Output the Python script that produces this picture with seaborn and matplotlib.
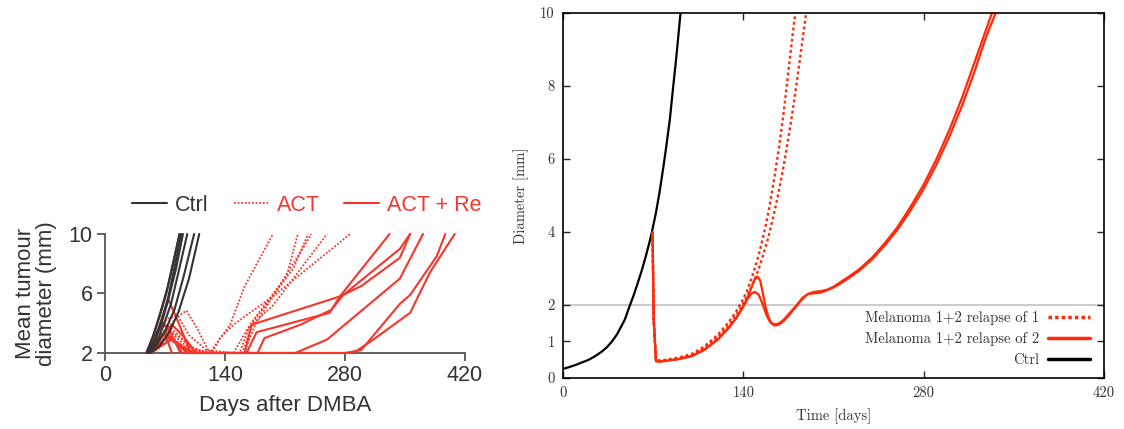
import numpy as np
import pandas as pd
import seaborn as sns
import matplotlib.pyplot as plt
from matplotlib.lines import Line2D

sns.set_theme(style='ticks')
plt.rcParams['font.family'] = ['Liberation Sans', 'DejaVu Sans']

# ---------------- left panel: measured tumours (days after DMBA, mm) ----------------
ctrl_days = [
    [48, 56, 64, 72, 80, 87],
    [50, 58, 66, 74, 82, 89],
    [50, 58, 66, 74, 83, 91],
    [52, 60, 68, 77, 86, 96],
    [51, 61, 71, 81, 92, 104],
    [53, 64, 75, 86, 98, 110],
    [49, 57, 65, 73, 81, 87],
]
ctrl_diam = [
    [2, 3.1, 4.5, 6.1, 8.2, 10],
    [2, 2.9, 4.2, 5.8, 8.0, 10],
    [2, 2.8, 4.0, 5.6, 7.7, 10],
    [2, 2.7, 3.8, 5.3, 7.5, 10],
    [2, 2.6, 3.6, 4.9, 7.2, 10],
    [2, 2.5, 3.4, 4.8, 7.0, 10],
    [2, 3.3, 4.8, 6.4, 8.4, 10],
]

act_days = [
    [50, 60, 72, 84, 95, 108, 122, 146, 163, 196],
    [52, 62, 74, 86, 100, 130, 157, 169, 212, 225],
    [50, 60, 70, 82, 96, 130, 160, 173, 220, 237],
    [54, 64, 76, 88, 104, 140, 162, 176, 196, 241],
    [51, 61, 72, 85, 98, 118, 150, 166, 196, 259],
    [53, 63, 75, 88, 102, 118, 125, 134, 150, 169, 196, 286],
    [50, 58, 68, 80, 92, 104],
    [55, 65, 76, 88, 100],
    [52, 60, 70, 82, 94, 112],
]
act_diam = [
    [2, 2.8, 3.6, 4.4, 4.85, 3.6, 2, 3.9, 6.5, 10],
    [2, 3.0, 3.8, 3.2, 2.3, 2, 2, 3.9, 7.2, 10],
    [2, 2.6, 3.3, 2.9, 2.2, 2, 2, 4.1, 7.7, 10],
    [2, 2.5, 3.0, 2.6, 2, 2, 2, 4.0, 5.8, 10],
    [2, 3.2, 4.3, 4.5, 3.2, 2.2, 2, 3.6, 5.2, 10],
    [2, 2.7, 3.5, 3.0, 2.4, 2, 2, 3.0, 3.9, 4.7, 5.8, 10],
    [2, 2.6, 3.2, 2.8, 2.2, 2],
    [2, 2.4, 2.9, 2.4, 2],
    [2, 3.4, 4.0, 3.1, 2.5, 2],
]

actre_days = [
    [50, 62, 74, 86, 100, 163, 171, 274, 332],
    [52, 64, 78, 92, 106, 165, 177, 262, 274, 299, 344, 356],
    [51, 60, 70, 80, 90, 178, 186, 228, 264, 278, 344, 356],
    [53, 63, 73, 84, 96, 222, 259, 344, 371],
    [50, 58, 68, 78, 88, 280, 299, 344, 356, 387, 397],
    [54, 66, 78, 90, 104, 290, 313, 356, 379, 408],
    [52, 60, 70, 78],
]
actre_diam = [
    [2, 3.6, 5.6, 4.0, 2, 2, 3.9, 5.8, 10],
    [2, 3.0, 3.9, 3.1, 2, 2, 3.4, 4.7, 5.8, 6.5, 8.4, 10],
    [2, 2.8, 3.4, 2.9, 2, 2, 3.0, 3.9, 4.9, 5.9, 9.0, 10],
    [2, 2.6, 3.1, 2.6, 2, 2, 2.9, 7.0, 10],
    [2, 3.1, 4.0, 3.2, 2, 2, 2.2, 5.3, 5.9, 8.5, 10],
    [2, 2.5, 2.9, 2.4, 2, 2, 2.9, 4.7, 7.4, 10],
    [2, 2.9, 3.3, 2],
]

# ---------------- right panel: model curves (days, mm) ----------------
ctrl_t = [0, 5, 10, 15, 20, 25, 30, 34, 38, 42, 45, 48, 52, 55, 58, 61, 64, 67, 69, 72,
          75, 78, 80, 83, 85, 88, 91.5]
ctrl_d = [0.25, 0.3, 0.36, 0.43, 0.5, 0.6, 0.72, 0.84, 1.0, 1.2, 1.4, 1.6, 2.0, 2.28, 2.6, 2.93,
          3.3, 3.7, 4.0, 4.5, 5.1, 5.8, 6.3, 7.1, 7.8, 8.8, 10.1]

rel2a_t = [69.5, 70.4, 72.2, 75, 80, 90, 100, 110, 120, 128, 134, 139, 143, 146, 149, 152,
           155, 158, 161, 164, 167, 171, 175, 180, 185, 190, 195, 200, 205, 210, 216, 222,
           230, 240, 250, 260, 270, 280, 290, 300, 310, 320, 328, 334]
rel2a_d = [4.0, 1.6, 0.46, 0.45, 0.47, 0.52, 0.6, 0.78, 1.05, 1.35, 1.62, 1.9, 2.15, 2.3, 2.36, 2.28,
           2.02, 1.72, 1.52, 1.44, 1.45, 1.55, 1.7, 1.92, 2.13, 2.3, 2.36, 2.38, 2.42, 2.5, 2.64, 2.78,
           2.98, 3.3, 3.7, 4.15, 4.7, 5.3, 6.0, 6.8, 7.7, 8.7, 9.5, 10.1]

rel2b_t = [69.5, 70.4, 72.2, 75, 80, 90, 100, 110, 120, 128, 134, 139, 143, 146, 148.5, 151,
           153, 155, 157, 159.5, 162, 165, 168, 172, 176, 181, 186, 190, 195, 200, 205, 210,
           216, 222, 230, 240, 250, 260, 270, 280, 290, 300, 310, 320, 328, 337]
rel2b_d = [4.0, 1.6, 0.46, 0.45, 0.47, 0.52, 0.6, 0.78, 1.05, 1.35, 1.62, 1.9, 2.18, 2.45, 2.68, 2.78,
           2.68, 2.35, 1.98, 1.66, 1.5, 1.47, 1.5, 1.62, 1.78, 1.98, 2.2, 2.3, 2.32, 2.34, 2.4, 2.48,
           2.6, 2.74, 2.94, 3.25, 3.64, 4.08, 4.6, 5.18, 5.85, 6.62, 7.48, 8.45, 9.3, 10.1]

rel1a_t = [69.5, 70.4, 72.2, 75, 80, 90, 100, 110, 120, 128, 134, 139, 143, 147, 151, 155,
           159, 163, 165, 167, 169, 171, 173, 175, 177, 179, 181.5]
rel1a_d = [4.0, 1.6, 0.48, 0.48, 0.5, 0.56, 0.66, 0.87, 1.18, 1.5, 1.8, 2.1, 2.4, 2.8, 3.25, 3.8,
           4.45, 5.25, 5.7, 6.15, 6.65, 7.2, 7.78, 8.4, 9.02, 9.62, 10.3]

rel1b_t = [69.5, 70.4, 72.2, 75, 80, 90, 100, 110, 120, 128, 134, 139, 143, 147, 151, 155,
           159, 163, 167, 171, 175, 178, 181, 184, 187, 190]
rel1b_d = [4.0, 1.6, 0.47, 0.47, 0.49, 0.54, 0.63, 0.83, 1.12, 1.42, 1.7, 1.98, 2.25, 2.56, 2.9, 3.32,
           3.8, 4.38, 5.02, 5.75, 6.58, 7.25, 7.98, 8.75, 9.55, 10.3]

red_l = '#f6352c'
red_r = '#ff2a0a'
grey_txt = '#333333'

# long table for the spaghetti plot
rows = []
for grp, dd, vv in [('Ctrl', ctrl_days, ctrl_diam), ('ACT', act_days, act_diam),
                    ('ACT + Re', actre_days, actre_diam)]:
    for i, (d, v) in enumerate(zip(dd, vv)):
        for x, y in zip(d, v):
            rows.append((grp, f'{grp}_{i}', x, y))
df = pd.DataFrame(rows, columns=['group', 'mouse', 'day', 'diam'])

fig = plt.figure(figsize=(11.24, 4.29), dpi=100)
ax1 = fig.add_axes([0.0934, 0.1772, 0.3203, 0.2774])
ax2 = fig.add_axes([0.5009, 0.1189, 0.4813, 0.8508])

pal = {'Ctrl': '#333333', 'ACT': red_l, 'ACT + Re': red_l}
dash = {'Ctrl': '', 'ACT': (1, 1), 'ACT + Re': ''}
for grp in ['ACT', 'ACT + Re', 'Ctrl']:
    sns.lineplot(data=df[df.group == grp], x='day', y='diam', units='mouse', estimator=None,
                 sort=False, hue='group', style='group', palette=pal, dashes=dash,
                 lw=1.5 if grp != 'ACT' else 1.3, legend=False, ax=ax1, clip_on=False,
                 zorder=3)

ax1.set_xlim(0, 420)
ax1.set_ylim(2, 10)
ax1.set_xticks([0, 140, 280, 420])
ax1.set_yticks([2, 6, 10])
sns.despine(ax=ax1)
for s in ['left', 'bottom']:
    ax1.spines[s].set_color('#555555')
    ax1.spines[s].set_linewidth(1.3)
ax1.tick_params(direction='out', length=6, width=1.3, color='#555555',
                labelsize=15.5, labelcolor=grey_txt, pad=3)
ax1.set_xlabel('Days after DMBA', fontsize=16, color=grey_txt, labelpad=6)
ax1.set_ylabel('Mean tumour\ndiameter (mm)', fontsize=16, color=grey_txt,
               linespacing=1.05, labelpad=8)

handles = [Line2D([], [], color='#333333', lw=1.5),
           Line2D([], [], color=red_l, lw=1.3, dashes=(1, 1)),
           Line2D([], [], color=red_l, lw=1.5)]
leg = ax1.legend(handles, ['Ctrl', 'ACT', 'ACT + Re'], ncol=3, frameon=False,
                 loc='center right', bbox_to_anchor=(1.047, 1.24), fontsize=15.5,
                 handlelength=1.6, handletextpad=0.4, columnspacing=1.15,
                 borderaxespad=0, borderpad=0)
for txt, c in zip(leg.get_texts(), [grey_txt, red_l, red_l]):
    txt.set_color(c)

# ---------------- right panel ----------------
ax2.axhline(2, color='#cccccc', lw=1.5, zorder=0)
sns.lineplot(x=ctrl_t, y=ctrl_d, color='black', lw=1.6, sort=False, estimator=None, ax=ax2)
for t, d in [(rel1a_t, rel1a_d), (rel1b_t, rel1b_d)]:
    sns.lineplot(x=t, y=d, color=red_r, lw=1.7, sort=False, estimator=None, ax=ax2,
                 linestyle=(0, (1.2, 1.2)))
for t, d in [(rel2a_t, rel2a_d), (rel2b_t, rel2b_d)]:
    sns.lineplot(x=t, y=d, color=red_r, lw=1.6, sort=False, estimator=None, ax=ax2)

ax2.set_xlim(0, 420)
ax2.set_ylim(0, 10)
ax2.set_xticks([0, 140, 280, 420])
ax2.set_yticks([0, 1, 2, 4, 6, 8, 10])
for s in ax2.spines.values():
    s.set_color('black')
    s.set_linewidth(1.2)
ax2.tick_params(direction='in', length=5, width=1, top=True, right=True,
                labelsize=10.5, labelcolor=grey_txt, pad=6)
for lab in ax2.get_xticklabels() + ax2.get_yticklabels():
    lab.set_fontfamily('cmr10')
ax2.set_xlabel('Time [days]', fontsize=10.5, family='cmr10', color=grey_txt, labelpad=6)
ax2.set_ylabel('Diameter [mm]', fontsize=10.5, family='cmr10', color=grey_txt, labelpad=8)

h2 = [Line2D([], [], color=red_r, lw=2.5, linestyle=(0, (1.0, 0.9))),
      Line2D([], [], color=red_r, lw=2.5),
      Line2D([], [], color='black', lw=2.5)]
leg2 = ax2.legend(h2, ['Melanoma 1+2 relapse of 1', 'Melanoma 1+2 relapse of 2', 'Ctrl'],
                  loc='lower right', bbox_to_anchor=(0.975, 0.03), frameon=False,
                  markerfirst=False, handlelength=2.9, handletextpad=0.6, labelspacing=0.5,
                  borderaxespad=0, borderpad=0, prop={'family': 'cmr10', 'size': 10.5})
for txt in leg2.get_texts():
    txt.set_color(grey_txt)

fig.savefig('out.png', dpi=100)
